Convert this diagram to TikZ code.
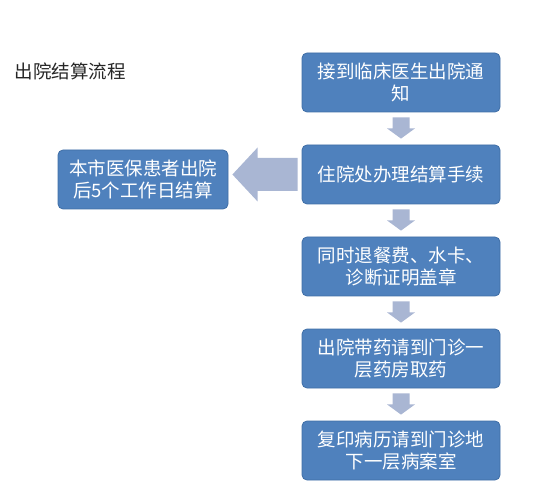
\documentclass[tikz,border=0pt]{standalone}
\usepackage{fontspec}
\usepackage{tikz}
\usetikzlibrary{calc,positioning}
\newfontfamily\cjk{Noto Sans CJK SC}
\definecolor{boxblue}{HTML}{4F81BD}
\definecolor{boxedge}{HTML}{3F6EA6}
\definecolor{arrowgray}{HTML}{A9B6D3}
\definecolor{titlegray}{HTML}{262626}

\begin{document}
\begin{tikzpicture}[%
x=1pt, y=-1pt,
node distance=92pt,
on grid,
flowbox/.style={draw=boxedge, line width=0.8pt, fill=boxblue, rounded corners=5pt,
  minimum width=198pt, minimum height=59pt, inner sep=0pt, align=center,
  text=white, font=\cjk\fontsize{18.5}{22.5}\selectfont},
flowarrow/.style={fill=arrowgray, draw=none}
]
\useasboundingbox (0,0) rectangle (543,502);

\node[anchor=west, text=titlegray, font=\cjk\fontsize{18.5}{22}\selectfont] (title) at (11,71) {出院结算流程};

\node[flowbox] (notice) at (401,82.5) {接到临床医生出院通\\知};
\node[flowbox] (settle) [below=of notice] {住院处办理结算手续};
\node[flowbox] (refund) [below=of settle] {同时退餐费、水卡、\\诊断证明盖章};
\node[flowbox] (drugs) [below=of refund] {出院带药请到门诊一\\层药房取药};
\node[flowbox] (records) [below=of drugs] {复印病历请到门诊地\\下一层病案室};
\node[flowbox, minimum width=170pt] (local) [left=258pt of settle, yshift=-5pt] {本市医保患者出院\\后5个工作日结算};

% block arrows down the chain
\foreach \a/\b in {notice/settle, settle/refund, refund/drugs, drugs/records}
  \fill[flowarrow] ($(\a.south)+(-8.5,5)$) -- ($(\a.south)+(8.5,5)$) -- ($(\a.south)+(8.5,16)$)
    -- ($(\a.south)+(14,16)$) -- ($(\b.north)+(0,-6)$) -- ($(\a.south)+(-14,16)$)
    -- ($(\a.south)+(-8.5,16)$) -- cycle;

% block arrow to the side box
\fill[flowarrow] ($(settle.west)+(-4,-16.5)$) -- ($(settle.west)+(-4,16.5)$) -- ($(settle.west)+(-44,16.5)$)
  -- ($(settle.west)+(-44,27)$) -- ($(local.east)+(4,-5)$) -- ($(settle.west)+(-44,-27)$)
  -- ($(settle.west)+(-44,-16.5)$) -- cycle;
\end{tikzpicture}
\end{document}
